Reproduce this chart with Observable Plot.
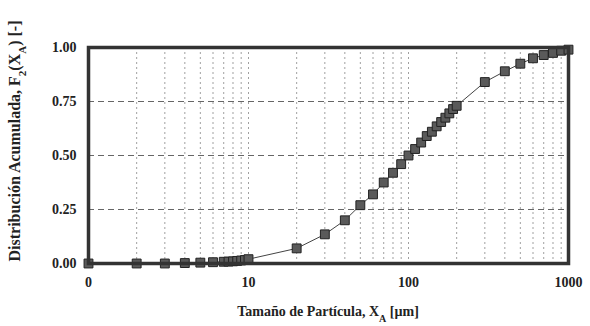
<!DOCTYPE html>
<html>
<head>
<meta charset="utf-8">
<script src="https://cdn.jsdelivr.net/npm/d3@7"></script>
<script src="https://cdn.jsdelivr.net/npm/@observablehq/plot@0.6"></script>
<style>
  html, body { margin: 0; padding: 0; background: #fff; }
</style>
</head>
<body>
<div id="chart"></div>
<script>
const sizes = [1, 2, 3, 4, 5, 6, 7, 7.5, 8, 8.5, 9, 9.5, 10, 20, 30, 40, 50, 60, 70, 80, 90, 100, 110, 120, 130, 140, 150, 160, 170, 180, 190, 200, 300, 400, 500, 600, 700, 800, 900, 1000];
const fractions = [0, 0, 0, 0.002, 0.004, 0.006, 0.008, 0.009, 0.01, 0.012, 0.014, 0.016, 0.02, 0.07, 0.135, 0.2, 0.27, 0.32, 0.375, 0.42, 0.46, 0.5, 0.53, 0.56, 0.59, 0.61, 0.635, 0.655, 0.675, 0.695, 0.715, 0.73, 0.84, 0.89, 0.925, 0.95, 0.965, 0.975, 0.985, 0.99];
const xTicks = [1, 10, 100, 1000];
const xTickLabels = ["0", "10", "100", "1000"];
const yTicks = [0, 0.25, 0.5, 0.75, 1];
const yGrid = [0.25, 0.5, 0.75];
const xGrid = [2, 3, 4, 5, 6, 7, 8, 9, 10, 20, 30, 40, 50, 60, 70, 80, 90, 100, 200, 300, 400, 500, 600, 700, 800, 900];
const xTitle = "Tamaño de Partícula, X";
const yTitle = "Distribución Acumulada, F";

const data = sizes.map((s, i) => ({size: s, frac: fractions[i]}));

const svg = Plot.plot({
  width: 590,
  height: 326,
  marginLeft: 88,
  marginRight: 22,
  marginTop: 47,
  marginBottom: 63,
  style: {fontFamily: "Liberation Serif", fontWeight: "bold", fontSize: "14px", background: "#fff", color: "#222"},
  x: {type: "log", domain: [1, 1000]},
  y: {domain: [0, 1]},
  marks: [
    Plot.ruleX(xGrid, {stroke: "#888", strokeWidth: 0.8, strokeDasharray: "2,3"}),
    Plot.ruleY(yGrid, {stroke: "#666", strokeWidth: 1, strokeDasharray: "6,4"}),
    Plot.axisX({ticks: xTicks, tickSize: 0, tickPadding: 14, tickFormat: d => xTickLabels[xTicks.indexOf(d)], label: null}),
    Plot.axisY({ticks: yTicks, tickSize: 0, tickPadding: 12, tickFormat: d3.format(".2f"), label: null}),
    Plot.line(data, {x: "size", y: "frac", stroke: "#444", strokeWidth: 1}),
    Plot.dot(data, {x: "size", y: "frac", symbol: "square", r: 5, fill: "#5a5a5a", stroke: "#222", strokeWidth: 1}),
    Plot.frame({stroke: "#333", strokeWidth: 3.5})
  ]
});

const s = d3.select(svg);
const xt = s.append("text")
  .attr("x", 328).attr("y", 316)
  .attr("text-anchor", "middle")
  .style("font-family", "Liberation Serif").style("font-weight", "bold").style("font-size", "14px")
  .attr("fill", "#222");
xt.append("tspan").text(xTitle);
xt.append("tspan").attr("baseline-shift", "sub").style("font-size", "10px").text("A");
xt.append("tspan").text(" [µm]");

const yt = s.append("text")
  .attr("transform", "translate(20,141) rotate(-90)")
  .attr("text-anchor", "middle")
  .style("font-family", "Liberation Serif").style("font-weight", "bold").style("font-size", "16px")
  .attr("fill", "#222");
yt.append("tspan").text(yTitle);
yt.append("tspan").attr("baseline-shift", "sub").style("font-size", "11px").text("2");
yt.append("tspan").text("(X");
yt.append("tspan").attr("baseline-shift", "sub").style("font-size", "11px").text("A");
yt.append("tspan").text(") [-]");

document.getElementById("chart").appendChild(svg);
</script>
</body>
</html>
